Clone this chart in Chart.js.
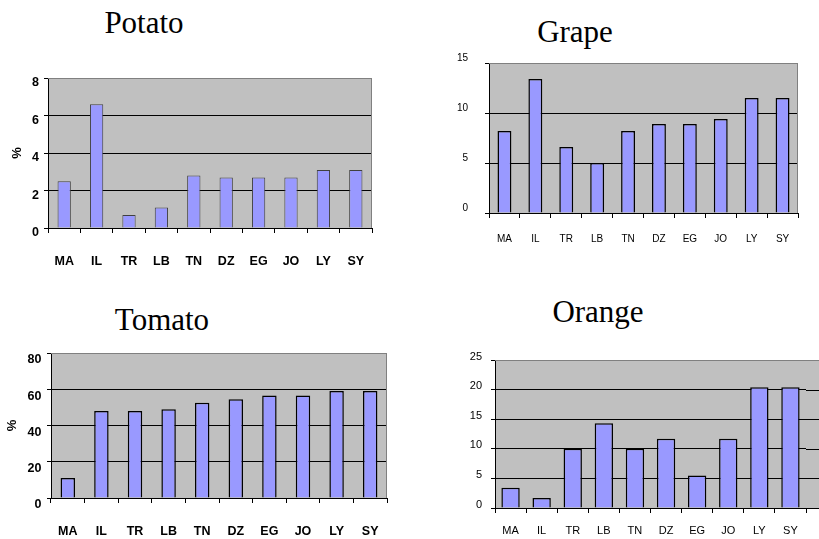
<!DOCTYPE html>
<html>
<head>
<meta charset="utf-8">
<script src="https://cdn.jsdelivr.net/npm/chart.js@4.4.1/dist/chart.umd.min.js"></script>
<style>
  html, body { margin: 0; padding: 0; background: #fff; overflow: hidden; }
  body { width: 819px; height: 539px; position: relative; }
  .title { position: absolute; width: 200px; text-align: center; font: 31px/31px 'Liberation Serif', 'Times New Roman', serif; color: #000; }
  canvas { position: absolute; }
</style>
</head>
<body>
<div class="title" style="left:44px;top:7px">Potato</div>
<div class="title" style="left:475px;top:16px">Grape</div>
<div class="title" style="left:62px;top:304px">Tomato</div>
<div class="title" style="left:498px;top:296px">Orange</div>
<canvas id="potato"></canvas>
<canvas id="grape"></canvas>
<canvas id="tomato"></canvas>
<canvas id="orange"></canvas>
<script>
// share of each crop, by country (%)
const countries = ['MA', 'IL', 'TR', 'LB', 'TN', 'DZ', 'EG', 'JO', 'LY', 'SY'];
const potato = [2.5, 6.6, 0.7, 1.1, 2.8, 2.7, 2.7, 2.7, 3.1, 3.1];
const grape = [8.2, 13.4, 6.6, 5.0, 8.2, 8.9, 8.9, 9.4, 11.5, 11.5];
const tomato = [11, 48, 48, 49, 52.5, 54.5, 56.5, 56.5, 59, 59];
const orange = [3.4, 1.7, 10, 14.3, 10, 11.7, 5.5, 11.7, 20.4, 20.4];

const potatoTicks = [0, 2, 4, 6, 8];
const grapeTicks = [0, 5, 10, 15];
const tomatoTicks = [0, 20, 40, 60, 80];
const orangeTicks = [0, 5, 10, 15, 20, 25];

const boldFont = { family: "'Liberation Sans', Arial, sans-serif", size: 12.5, weight: 'bold' };
const pctFont = { family: "'Liberation Sans', Arial, sans-serif", size: 13, weight: 'bold' };
const plain = (size) => ({ family: "'Liberation Sans', Arial, sans-serif", size: size, weight: 'normal' });

// grey plot area + grey frame (excel style)
const plotFrame = {
  id: 'plotFrame',
  beforeDraw(chart, args, opts) {
    const { ctx, chartArea: a } = chart;
    const ext = opts.extend || 0;
    ctx.save();
    ctx.fillStyle = '#C0C0C0';
    ctx.fillRect(a.left, a.top, a.right + ext - a.left, a.bottom - a.top);
    ctx.restore();
  },
  beforeDatasetsDraw(chart, args, opts) {
    const { ctx, chartArea: a, scales } = chart;
    const ext = opts.extend || 0;
    ctx.save();
    ctx.lineWidth = 1;
    if (ext) {
      // plot area runs on past the last category
      ctx.strokeStyle = '#000';
      ctx.beginPath();
      scales.y.ticks.forEach(t => {
        if (t.value === scales.y.max) return;
        const py = Math.round(scales.y.getPixelForValue(t.value)) + 0.5;
        ctx.moveTo(a.right, py);
        ctx.lineTo(a.right + ext, py);
      });
      ctx.stroke();
    }
    ctx.strokeStyle = '#808080';
    ctx.beginPath();
    ctx.moveTo(a.left, Math.round(a.top) + 0.5);
    ctx.lineTo(a.right + ext, Math.round(a.top) + 0.5);
    if (!ext) {
      ctx.moveTo(Math.round(a.right) - 0.5, a.top);
      ctx.lineTo(Math.round(a.right) - 0.5, a.bottom);
    }
    ctx.stroke();
    ctx.restore();
  }
};

function cropChart(id, values, ticks, box, area, look) {
  const el = document.getElementById(id);
  el.width = box.w;
  el.height = box.h;
  el.style.left = box.x + 'px';
  el.style.top = box.y + 'px';
  const top = ticks[ticks.length - 1];
  return new Chart(el, {
    type: 'bar',
    data: {
      labels: countries,
      datasets: [{
        data: values,
        backgroundColor: '#9999FF',
        borderColor: look.border,
        borderWidth: look.borderWidth,
        categoryPercentage: 1,
        barPercentage: look.bar
      }]
    },
    plugins: [plotFrame],
    options: {
      responsive: false,
      animation: false,
      layout: { padding: { left: 0, top: area.t - box.y, right: box.x + box.w - area.r, bottom: 0 } },
      plugins: {
        legend: { display: false },
        tooltip: { enabled: false },
        plotFrame: { extend: look.extend || 0 }
      },
      scales: {
        x: {
          afterFit: s => { s.height = box.y + box.h - area.b; },
          grid: { drawOnChartArea: false, color: '#000', tickLength: 5, tickWidth: 1 },
          border: { color: '#000', width: 1 },
          ticks: { font: look.font, color: '#000', padding: look.xPad, maxRotation: 0, autoSkip: false }
        },
        y: {
          min: ticks[0],
          max: top,
          afterFit: s => { s.width = area.l - box.x; },
          grid: {
            color: c => (c.tick && c.tick.value === top) ? 'rgba(0,0,0,0)' : '#000',
            tickColor: '#000',
            tickLength: 4,
            lineWidth: 1
          },
          border: { color: '#000', width: 1 },
          ticks: {
            stepSize: ticks[1] - ticks[0],
            font: look.font,
            color: '#000',
            padding: look.yPad,
            labelOffset: look.yOffset
          },
          title: look.yTitle
            ? { display: true, text: '%', font: pctFont, color: '#000', padding: { top: look.yTitle, bottom: 0 } }
            : { display: false }
        }
      }
    }
  });
}

cropChart('potato', potato, potatoTicks,
  { x: 0, y: 50, w: 400, h: 230 }, { l: 48, t: 78, r: 372, b: 228 },
  { font: boldFont, yPad: 5, yOffset: 5, xPad: 21, bar: 0.41, border: '#404040', borderWidth: 1, yTitle: 10 });

cropChart('grape', grape, grapeTicks,
  { x: 410, y: 40, w: 409, h: 220 }, { l: 489, t: 57, r: 798, b: 213 },
  { font: plain(10), yPad: 17, yOffset: -5, xPad: 15.5, bar: 0.45, border: '#000', borderWidth: 1.5 });

cropChart('tomato', tomato, tomatoTicks,
  { x: 0, y: 340, w: 410, h: 199 }, { l: 51, t: 353, r: 387, b: 498 },
  { font: boldFont, yPad: 5.5, yOffset: 7, xPad: 21, bar: 0.43, border: '#000', borderWidth: 1.5, yTitle: 5 });

cropChart('orange', orange, orangeTicks,
  { x: 410, y: 340, w: 409, h: 199 }, { l: 495, t: 360, r: 806, b: 508 },
  { font: plain(11), yPad: 9, yOffset: -3.5, xPad: 11.5, bar: 0.59, border: '#000', borderWidth: 1.5, extend: 13 });
</script>
</body>
</html>
